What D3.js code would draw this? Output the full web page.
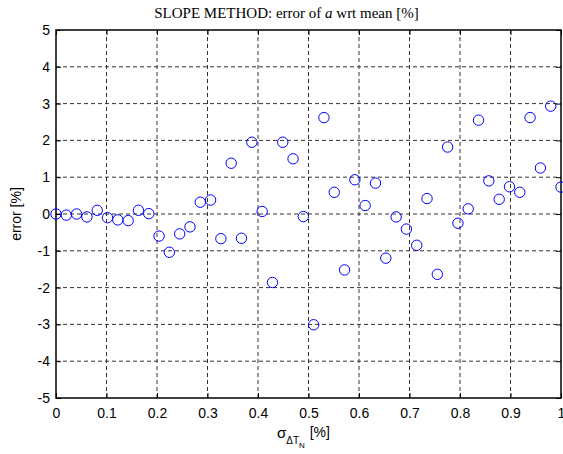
<!DOCTYPE html>
<html>
<head>
<meta charset="utf-8">
<script src="https://cdn.jsdelivr.net/npm/d3@7"></script>
<style>
  body { margin: 0; background: #fff; }
  .tick text { font-family: "Liberation Sans", Arial, sans-serif; font-size: 14px; fill: #000; }
</style>
</head>
<body>
<div id="chart"></div>
<script>
// sigma values (x) and errors (y)
var sigma = [0, 0.0204, 0.0408, 0.0612, 0.0816, 0.102, 0.1224, 0.1429, 0.1633, 0.1837,
  0.2041, 0.2245, 0.2449, 0.2653, 0.2857, 0.3061, 0.3265, 0.3469, 0.3673, 0.3878,
  0.4082, 0.4286, 0.449, 0.4694, 0.4898, 0.5102, 0.5306, 0.551, 0.5714, 0.5918,
  0.6122, 0.6327, 0.6531, 0.6735, 0.6939, 0.7143, 0.7347, 0.7551, 0.7755, 0.7959,
  0.8163, 0.8367, 0.8571, 0.8776, 0.898, 0.9184, 0.9388, 0.9592, 0.9796, 1];
var err = [0.0, -0.03, 0.0, -0.08, 0.1, -0.1, -0.16, -0.18, 0.1, 0.01,
  -0.6, -1.04, -0.54, -0.35, 0.32, 0.38, -0.67, 1.38, -0.66, 1.95,
  0.07, -1.86, 1.95, 1.5, -0.07, -3.01, 2.62, 0.59, -1.52, 0.93,
  0.23, 0.84, -1.2, -0.08, -0.41, -0.85, 0.42, -1.64, 1.82, -0.25,
  0.14, 2.55, 0.9, 0.4, 0.74, 0.59, 2.62, 1.25, 2.93, 0.73];
var xTicks = [0, 0.1, 0.2, 0.3, 0.4, 0.5, 0.6, 0.7, 0.8, 0.9, 1];
var yTicks = [-5, -4, -3, -2, -1, 0, 1, 2, 3, 4, 5];

var width = 563, height = 454;
var margin = {left: 56, right: 2, top: 30, bottom: 56};
var fmt = function(d) { return String(d); };

var svg = d3.select("#chart").append("svg")
    .attr("width", width)
    .attr("height", height);

var x = d3.scaleLinear().domain([0, 1]).range([margin.left, width - margin.right]);
var y = d3.scaleLinear().domain([-5, 5]).range([height - margin.bottom, margin.top]);

// grid
svg.append("g").selectAll("line")
  .data(xTicks.slice(1, -1)).enter().append("line")
    .attr("x1", function(d) { return x(d); }).attr("x2", function(d) { return x(d); })
    .attr("y1", y(-5)).attr("y2", y(5))
    .attr("stroke", "#333").attr("stroke-dasharray", "4,3");
svg.append("g").selectAll("line")
  .data(yTicks.slice(1, -1)).enter().append("line")
    .attr("y1", function(d) { return y(d); }).attr("y2", function(d) { return y(d); })
    .attr("x1", x(0)).attr("x2", x(1))
    .attr("stroke", "#333").attr("stroke-dasharray", "4,3");

// axes, ticks inward
svg.append("g")
  .attr("transform", "translate(0," + y(-5) + ")")
  .call(d3.axisBottom(x).tickValues(xTicks).tickFormat(fmt).tickSizeInner(-5).tickSizeOuter(0).tickPadding(10))
  .call(function(g) { g.select(".domain").remove(); });
svg.append("g")
  .attr("transform", "translate(" + x(0) + ",0)")
  .call(d3.axisLeft(y).tickValues(yTicks).tickFormat(fmt).tickSizeInner(-5).tickSizeOuter(0).tickPadding(6))
  .call(function(g) { g.select(".domain").remove(); });
svg.append("g")
  .attr("transform", "translate(0," + y(5) + ")")
  .call(d3.axisTop(x).tickValues(xTicks).tickFormat("").tickSizeInner(-5).tickSizeOuter(0))
  .call(function(g) { g.select(".domain").remove(); });
svg.append("g")
  .attr("transform", "translate(" + x(1) + ",0)")
  .call(d3.axisRight(y).tickValues(yTicks).tickFormat("").tickSizeInner(-5).tickSizeOuter(0))
  .call(function(g) { g.select(".domain").remove(); });
svg.selectAll(".tick line").attr("stroke", "#000");

svg.append("rect")
  .attr("x", x(0)).attr("y", y(5))
  .attr("width", x(1) - x(0)).attr("height", y(-5) - y(5))
  .attr("fill", "none").attr("stroke", "#000").attr("stroke-width", 1.5);

// points
svg.append("g").selectAll("circle")
  .data(sigma).enter().append("circle")
    .attr("cx", function(d) { return x(d); })
    .attr("cy", function(d, i) { return y(err[i]); })
    .attr("r", 5.2)
    .attr("fill", "none")
    .attr("stroke", "#0000ff")
    .attr("stroke-width", 1);

// title
var title = svg.append("text")
  .attr("x", (x(0) + x(1)) / 2 - 22).attr("y", 18)
  .attr("text-anchor", "middle")
  .style("font-family", "'Liberation Serif', 'Times New Roman', serif")
  .style("font-size", "15px");
title.append("tspan").text("SLOPE METHOD: error of ");
title.append("tspan").style("font-style", "italic").text("a");
title.append("tspan").text(" wrt mean [%]");

// x label
var xl = svg.append("text")
  .attr("x", 277).attr("y", 438)
  .style("font-family", "'Liberation Sans', Arial, sans-serif")
  .style("font-size", "14px");
xl.append("tspan").style("font-size", "15px").text("σ");
xl.append("tspan").attr("dy", 6).style("font-size", "10px").text("ΔT");
xl.append("tspan").attr("dy", 4).style("font-size", "8px").text("N");
xl.append("tspan").attr("dy", -11).attr("dx", 1).text(" [%]");

// y label
svg.append("text")
  .attr("transform", "translate(21," + y(0) + ") rotate(-90)")
  .attr("text-anchor", "middle")
  .style("font-family", "'Liberation Sans', Arial, sans-serif")
  .style("font-size", "14px")
  .text("error [%]");
</script>
</body>
</html>
